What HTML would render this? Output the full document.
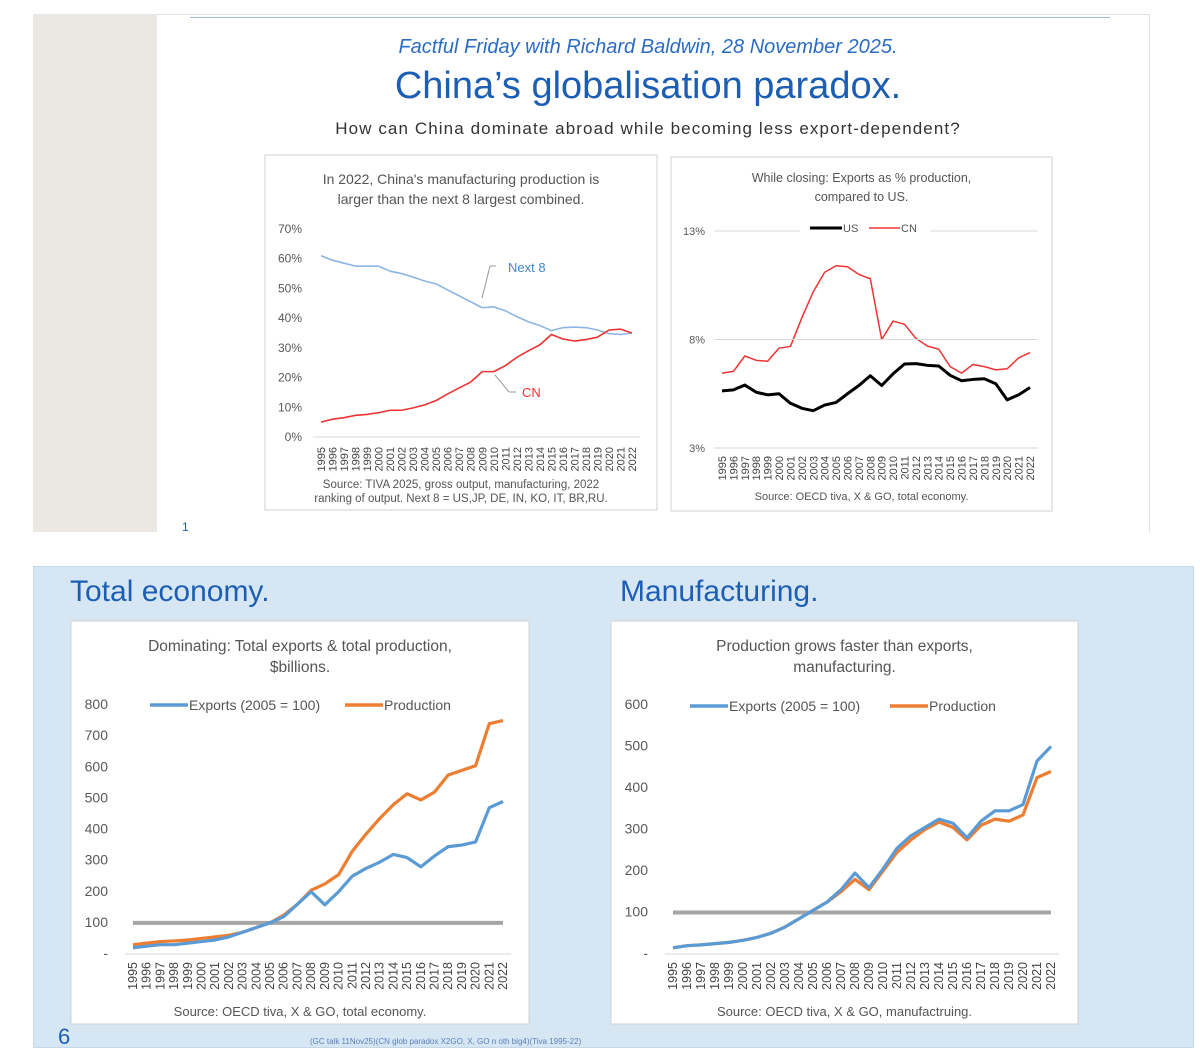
<!DOCTYPE html>
<html><head><meta charset="utf-8">
<style>
body{margin:0;width:1200px;height:1046px;background:#fff;position:relative;overflow:hidden;font-family:"Liberation Sans",sans-serif}
.abs{position:absolute}
</style></head>
<body>
<div class="abs" style="left:33px;top:14px;width:1115px;height:518px;background:#fff;border:1px solid #e2e2e2;border-bottom:none"></div>
<div class="abs" style="left:33px;top:14px;width:124px;height:518px;background:#ebe8e4"></div>
<div class="abs" style="left:190px;top:17px;width:920px;height:1px;background:#9dbde3"></div>
<div class="abs" style="left:190px;top:36px;width:916px;text-align:center;color:#2a6cc4;font-style:italic;font-size:20px">Factful Friday with Richard Baldwin, 28 November 2025.</div>
<div class="abs" style="left:190px;top:65px;width:916px;text-align:center;color:#1d5eb5;font-size:38px">China’s globalisation paradox.</div>
<div class="abs" style="left:150px;top:119px;width:996px;text-align:center;color:#333;font-size:17px;letter-spacing:1.1px">How can China dominate abroad while becoming less export-dependent?</div>
<div class="abs" style="left:182px;top:520px;font-size:12px;color:#1d5eb5">1</div>
<div class="abs" style="left:33px;top:566px;width:1159px;height:480px;background:#d6e7f3;border:1px solid #c5d8e8"></div>
<div class="abs" style="left:70px;top:575px;font-size:30px;color:#1d5eb5">Total economy.</div>
<div class="abs" style="left:620px;top:575px;font-size:30px;color:#1d5eb5">Manufacturing.</div>
<div class="abs" style="left:58px;top:1024px;font-size:22px;color:#1d5eb5">6</div>
<div class="abs" style="left:310px;top:1037px;font-size:8px;color:#5a7fb8">(GC talk 11Nov25)(CN glob paradox X2GO, X, GO n oth big4)(Tiva 1995-22)</div>
<svg class="abs" style="left:0;top:0" width="1200" height="1046" id="svg"></svg>
<script>
const years=[];for(let y=1995;y<=2022;y++)years.push(String(y));
const c1Next8=[61,59.5,58.5,57.5,57.5,57.5,55.8,55,53.8,52.5,51.5,49.5,47.5,45.5,43.5,43.8,42.5,40.5,38.8,37.5,35.8,36.8,37,36.8,36,34.8,34.5,35];
const c1CN=[5,6,6.5,7.3,7.6,8.2,9,9,9.8,10.8,12.3,14.5,16.5,18.5,22,22,24,26.8,29,31,34.5,33,32.3,32.8,33.6,36,36.3,35];
const c1Ticks=["0%","10%","20%","30%","40%","50%","60%","70%"];
const c2US=[5.63,5.68,5.9,5.57,5.45,5.5,5.06,4.83,4.72,4.98,5.1,5.5,5.88,6.33,5.88,6.42,6.87,6.89,6.81,6.78,6.35,6.1,6.16,6.19,5.96,5.22,5.45,5.79];
const c2CN=[6.45,6.53,7.24,7.04,7.0,7.6,7.68,9.0,10.2,11.1,11.4,11.35,11.0,10.8,8.0,8.85,8.7,8.05,7.7,7.55,6.75,6.45,6.85,6.75,6.6,6.65,7.15,7.4];
const c2Ticks=["3%","8%","13%"];
const c3Exports=[20,25,30,30,35,40,45,55,70,85,100,120,160,200,158,200,250,275,295,320,310,280,315,345,350,360,470,490];
const c3Production=[30,35,40,42,45,50,55,60,70,85,100,125,160,205,225,255,330,385,435,480,515,495,520,575,590,605,740,750];
const c3Base=new Array(28).fill(100);
const c3Ticks=["-","100","200","300","400","500","600","700","800"];
const c4Exports=[15,20,22,25,28,33,40,50,65,85,105,125,155,195,160,205,255,285,305,325,315,280,320,345,345,360,465,500];
const c4Production=[15,20,22,25,28,33,40,50,65,85,105,125,150,180,155,200,245,275,300,318,305,275,310,325,320,335,425,440];
const c4Base=new Array(28).fill(100);
const c4Ticks=["-","100","200","300","400","500","600"];

const svg=document.getElementById('svg');const NS='http://www.w3.org/2000/svg';
function el(t,a,p){const e=document.createElementNS(NS,t);for(const k in a)e.setAttribute(k,a[k]);(p||svg).appendChild(e);return e;}
function txt(s,a){const e=el('text',a);e.textContent=s;return e;}
function chart(o){
  const g=el('g',{});
  
  
  const box=el('rect',{x:o.box[0],y:o.box[1],width:o.box[2],height:o.box[3],fill:'#fff',stroke:'#d0d0d0'},g);
  
  
  o.title.forEach((t,i)=>{const e=txt(t,{x:o.box[0]+o.box[2]/2,y:o.titleY+i*o.titleLh,'text-anchor':'middle','font-size':o.titleFs,fill:'#555'});
    
    });
  const X=i=>o.x0+(o.x1-o.x0)*i/(years.length-1);
  const Y=v=>o.yb+(o.yt-o.yb)*(v-o.vmin)/(o.vmax-o.vmin);
  o.ticks.forEach((t,i)=>{const v=o.vmin+(o.vmax-o.vmin)*i/(o.ticks.length-1);
    if(o.grid){const gl=el('line',{x1:o.x0-8,x2:o.x1+8,y1:Y(v),y2:Y(v),stroke:'#d9d9d9'});
      
      }
    const e=txt(t,{x:o.tx,y:Y(v)+4,'text-anchor':o.tAnchor||'end','font-size':o.tfs,fill:'#595959'});
    
    });
  const ax=el('line',{x1:o.x0-8,x2:o.x1+8,y1:o.yb,y2:o.yb,stroke:'#d9d9d9'});
  
  
  years.forEach((y,i)=>{const xx=X(i)+4;const e=txt(y,{x:0,y:0,transform:`translate(${xx},${o.labTop}) rotate(-90)`,'text-anchor':'end','font-size':o.lfs,fill:'#444'});
    
    });
  o.series.forEach(s=>{const p=el('polyline',{points:s.data.map((v,i)=>X(i)+','+Y(v)).join(' '),fill:'none',stroke:s.color,'stroke-width':s.w,'stroke-linejoin':'round'},g);
    
    });
  o.src.forEach((t,i)=>{const e=txt(t,{x:o.box[0]+o.box[2]/2,y:o.srcY+i*14,'text-anchor':'middle','font-size':o.srcFs,fill:'#555'});
    
    });
}
chart({name:'chart-manufacturing-share',box:[265,155,392,355],title:["In 2022, China's manufacturing production is","larger than the next 8 largest combined."],titleY:184,titleLh:20,titleFs:14,
  x0:321,x1:632,yb:437,yt:229,vmin:0,vmax:70,ticks:c1Ticks,tx:302,tfs:12,lfs:11,labTop:447,grid:false,
  series:[{name:'next8-line',data:c1Next8,color:'#8db4e2',w:1.6},{name:'cn-line',data:c1CN,color:'#ee3333',w:1.6}],
  src:["Source: TIVA 2025, gross output, manufacturing, 2022","ranking of output. Next 8 = US,JP, DE, IN, KO, IT, BR,RU."],srcY:488,srcFs:11.5});
chart({name:'chart-exports-share',box:[671,157,381,354],title:["While closing: Exports as % production,","compared to US."],titleY:182,titleLh:19,titleFs:12.5,
  x0:722,x1:1030,yb:448,yt:231,vmin:3,vmax:13,ticks:c2Ticks,tx:705,tfs:11,lfs:11,labTop:456,grid:true,
  series:[{name:'cn-line',data:c2CN,color:'#ee3333',w:1.5},{name:'us-line',data:c2US,color:'#000',w:3}],
  src:["Source: OECD tiva, X & GO, total economy."],srcY:500,srcFs:11});
chart({name:'chart-total-economy',box:[71,621,458,403],title:["Dominating: Total exports & total production,","$billions."],titleY:651,titleLh:21,titleFs:15.5,
  x0:133,x1:503,yb:954,yt:705,vmin:0,vmax:800,ticks:c3Ticks,tx:108,tfs:14,lfs:12.5,labTop:962,grid:false,
  series:[{name:'baseline-100',data:c3Base,color:'#a5a5a5',w:4},{name:'production-line',data:c3Production,color:'#ed7d31',w:3.2},{name:'exports-line',data:c3Exports,color:'#5b9bd5',w:3.2}],
  src:["Source: OECD tiva, X & GO, total economy."],srcY:1016,srcFs:13});
chart({name:'chart-manufacturing',box:[611,621,467,403],title:["Production grows faster than exports,","manufacturing."],titleY:651,titleLh:21,titleFs:15.5,
  x0:673,x1:1051,yb:954,yt:705,vmin:0,vmax:600,ticks:c4Ticks,tx:648,tfs:14,lfs:12.5,labTop:962,grid:false,
  series:[{name:'baseline-100',data:c4Base,color:'#a5a5a5',w:4},{name:'production-line',data:c4Production,color:'#ed7d31',w:3.2},{name:'exports-line',data:c4Exports,color:'#5b9bd5',w:3.2}],
  src:["Source: OECD tiva, X & GO, manufactruing."],srcY:1016,srcFs:13});
function lab(s,a,n){const e=txt(s,a);}
function ln(a,n){const e=el('line',a);}
ln({x1:482,y1:298,x2:490,y2:266,stroke:'#999'},'next8-callout');ln({x1:490,y1:266,x2:496,y2:266,stroke:'#999'},'next8-callout-tick');
lab('Next 8',{x:508,y:272,'font-size':13,fill:'#3f86d0'},'next8-label');
ln({x1:495,y1:375,x2:509,y2:392,stroke:'#999'},'cn-callout');ln({x1:509,y1:392,x2:516,y2:392,stroke:'#999'},'cn-callout-tick');
lab('CN',{x:522,y:397,'font-size':13,fill:'#ee3333'},'cn-label');
el('rect',{x:800,y:220,width:130,height:16,fill:'#fff'});
ln({x1:810,y1:228,x2:842,y2:228,stroke:'#000','stroke-width':3},'legend-us-swatch');
lab('US',{x:843,y:232,'font-size':11,fill:'#555'},'legend-us');
ln({x1:869,y1:228,x2:900,y2:228,stroke:'#ee3333','stroke-width':1.5},'legend-cn-swatch');
lab('CN',{x:901,y:232,'font-size':11,fill:'#555'},'legend-cn');
[[150,345,705],[690,890,706]].forEach(([a,b,y])=>{
  ln({x1:a,y1:y,x2:a+38,y2:y,stroke:'#5b9bd5','stroke-width':3.5},'legend-exports-swatch');
  lab('Exports (2005 = 100)',{x:a+39,y:y+5,'font-size':14,fill:'#555'},'legend-exports');
  ln({x1:b,y1:y,x2:b+38,y2:y,stroke:'#ed7d31','stroke-width':3.5},'legend-production-swatch');
  lab('Production',{x:b+39,y:y+5,'font-size':14,fill:'#555'},'legend-production');
});
</script>
</body></html>
